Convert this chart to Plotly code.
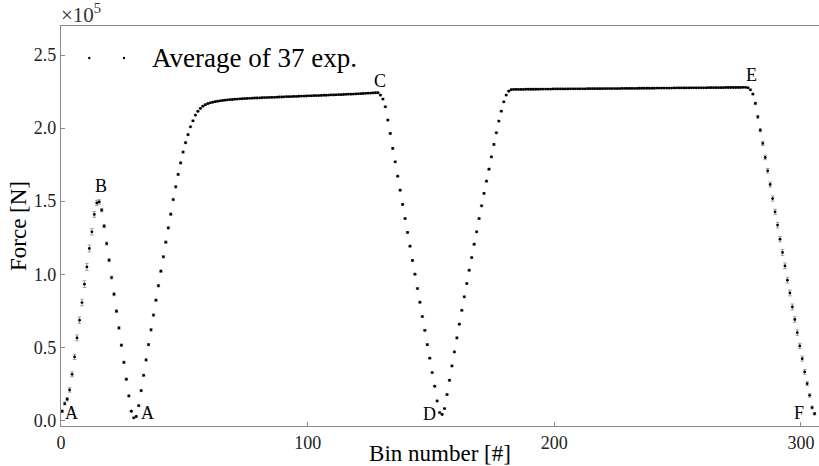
import numpy as np
import plotly.graph_objects as go

# Average force per bin, in units of 1e5 N (bins 0 .. 305)
force_1e5 = [
    0.062, 0.114, 0.144, 0.208, 0.315, 0.434, 0.564, 0.685, 0.806, 0.932,  # 0-9
    1.050, 1.176, 1.290, 1.409, 1.488, 1.495, 1.438, 1.329, 1.210, 1.096,  # 10-19
    0.977, 0.863, 0.747, 0.632, 0.514, 0.397, 0.281, 0.167, 0.062, 0.017,  # 20-29
    0.026, 0.100, 0.203, 0.308, 0.413, 0.518, 0.619, 0.720, 0.822, 0.921,  # 30-39
    1.021, 1.119, 1.219, 1.317, 1.411, 1.511, 1.598, 1.683, 1.762, 1.836,  # 40-49
    1.900, 1.955, 2.009, 2.050, 2.089, 2.115, 2.135, 2.150, 2.160, 2.167,  # 50-59
    2.173, 2.177, 2.181, 2.184, 2.187, 2.189, 2.191, 2.193, 2.195, 2.196,  # 60-69
    2.198, 2.199, 2.200, 2.201, 2.202, 2.203, 2.204, 2.205, 2.206, 2.206,  # 70-79
    2.207, 2.208, 2.209, 2.209, 2.210, 2.211, 2.211, 2.212, 2.213, 2.213,  # 80-89
    2.214, 2.215, 2.215, 2.216, 2.217, 2.217, 2.218, 2.219, 2.219, 2.220,  # 90-99
    2.221, 2.221, 2.222, 2.223, 2.223, 2.224, 2.225, 2.225, 2.226, 2.227,  # 100-109
    2.227, 2.228, 2.229, 2.229, 2.230, 2.231, 2.232, 2.232, 2.233, 2.234,  # 110-119
    2.235, 2.236, 2.237, 2.238, 2.239, 2.240, 2.241, 2.242, 2.242, 2.226,  # 120-129
    2.199, 2.146, 2.055, 1.963, 1.861, 1.769, 1.671, 1.575, 1.477, 1.381,  # 130-139
    1.286, 1.192, 1.094, 1.000, 0.902, 0.808, 0.710, 0.616, 0.518, 0.425,  # 140-149
    0.327, 0.233, 0.132, 0.053, 0.040, 0.080, 0.176, 0.274, 0.372, 0.468,  # 150-159
    0.564, 0.658, 0.753, 0.845, 0.936, 1.027, 1.114, 1.205, 1.290, 1.381,  # 160-169
    1.468, 1.553, 1.637, 1.719, 1.803, 1.888, 1.968, 2.048, 2.116, 2.180,  # 170-179
    2.226, 2.253, 2.263, 2.265, 2.265, 2.265, 2.265, 2.265, 2.266, 2.266,  # 180-189
    2.266, 2.266, 2.266, 2.266, 2.267, 2.267, 2.267, 2.267, 2.267, 2.268,  # 190-199
    2.268, 2.268, 2.268, 2.268, 2.268, 2.268, 2.269, 2.269, 2.269, 2.269,  # 200-209
    2.269, 2.269, 2.269, 2.270, 2.270, 2.270, 2.270, 2.270, 2.270, 2.270,  # 210-219
    2.271, 2.271, 2.271, 2.271, 2.271, 2.271, 2.271, 2.272, 2.272, 2.272,  # 220-229
    2.272, 2.272, 2.272, 2.272, 2.273, 2.273, 2.273, 2.273, 2.273, 2.273,  # 230-239
    2.273, 2.274, 2.274, 2.274, 2.274, 2.274, 2.274, 2.274, 2.275, 2.275,  # 240-249
    2.275, 2.275, 2.275, 2.275, 2.275, 2.276, 2.276, 2.276, 2.276, 2.276,  # 250-259
    2.276, 2.276, 2.277, 2.277, 2.277, 2.277, 2.277, 2.277, 2.277, 2.278,  # 260-269
    2.278, 2.278, 2.278, 2.278, 2.278, 2.278, 2.279, 2.279, 2.276, 2.262,  # 270-279
    2.233, 2.169, 2.077, 1.986, 1.895, 1.799, 1.708, 1.614, 1.518, 1.427,  # 280-289
    1.336, 1.240, 1.149, 1.057, 0.959, 0.872, 0.776, 0.690, 0.600, 0.509,  # 290-299
    0.422, 0.331, 0.251, 0.171, 0.087, 0.045,                              # 300-305
]

# Standard error of the mean per bin, same units
error_1e5 = [
    0.008, 0.010, 0.012, 0.015, 0.017, 0.018, 0.020, 0.022, 0.022, 0.023,  # 0-9
    0.024, 0.023, 0.022, 0.020, 0.018, 0.015, 0.012, 0.011, 0.011, 0.010,  # 10-19
    0.010, 0.010, 0.009, 0.009, 0.008, 0.008, 0.007, 0.006, 0.005, 0.004,  # 20-29
    0.005, 0.006, 0.007, 0.007, 0.008, 0.008, 0.008, 0.008, 0.008, 0.008,  # 30-39
    0.008, 0.008, 0.008, 0.008, 0.008, 0.008, 0.008, 0.007, 0.007, 0.007,  # 40-49
    0.006, 0.006, 0.006, 0.005, 0.005, 0.005, 0.004, 0.004, 0.004, 0.004,  # 50-59
    0.004, 0.004, 0.004, 0.004, 0.003, 0.004, 0.004, 0.004, 0.003, 0.004,  # 60-69
    0.004, 0.004, 0.003, 0.004, 0.004, 0.004, 0.003, 0.004, 0.004, 0.004,  # 70-79
    0.003, 0.004, 0.004, 0.004, 0.003, 0.004, 0.004, 0.004, 0.003, 0.004,  # 80-89
    0.004, 0.004, 0.003, 0.004, 0.004, 0.004, 0.003, 0.004, 0.004, 0.004,  # 90-99
    0.003, 0.004, 0.004, 0.004, 0.003, 0.004, 0.004, 0.004, 0.003, 0.004,  # 100-109
    0.004, 0.004, 0.003, 0.004, 0.004, 0.004, 0.003, 0.004, 0.004, 0.004,  # 110-119
    0.003, 0.004, 0.004, 0.004, 0.003, 0.004, 0.004, 0.004, 0.004, 0.005,  # 120-129
    0.005, 0.005, 0.006, 0.006, 0.006, 0.006, 0.006, 0.006, 0.006, 0.006,  # 130-139
    0.006, 0.006, 0.006, 0.006, 0.006, 0.006, 0.006, 0.006, 0.006, 0.005,  # 140-149
    0.005, 0.005, 0.005, 0.004, 0.004, 0.005, 0.005, 0.006, 0.006, 0.006,  # 150-159
    0.006, 0.006, 0.006, 0.006, 0.006, 0.006, 0.006, 0.006, 0.006, 0.006,  # 160-169
    0.006, 0.006, 0.006, 0.006, 0.006, 0.006, 0.006, 0.005, 0.005, 0.005,  # 170-179
    0.005, 0.004, 0.004, 0.004, 0.003, 0.004, 0.004, 0.004, 0.003, 0.004,  # 180-189
    0.004, 0.004, 0.003, 0.004, 0.004, 0.004, 0.003, 0.004, 0.004, 0.004,  # 190-199
    0.003, 0.004, 0.004, 0.004, 0.003, 0.004, 0.004, 0.004, 0.003, 0.004,  # 200-209
    0.004, 0.004, 0.003, 0.004, 0.004, 0.004, 0.003, 0.004, 0.004, 0.004,  # 210-219
    0.003, 0.004, 0.004, 0.004, 0.003, 0.004, 0.004, 0.004, 0.003, 0.004,  # 220-229
    0.004, 0.004, 0.003, 0.004, 0.004, 0.004, 0.003, 0.004, 0.004, 0.004,  # 230-239
    0.003, 0.004, 0.004, 0.004, 0.003, 0.004, 0.004, 0.004, 0.003, 0.004,  # 240-249
    0.004, 0.004, 0.003, 0.004, 0.004, 0.004, 0.003, 0.004, 0.004, 0.004,  # 250-259
    0.003, 0.004, 0.004, 0.004, 0.003, 0.004, 0.004, 0.004, 0.003, 0.004,  # 260-269
    0.004, 0.004, 0.003, 0.004, 0.004, 0.004, 0.004, 0.004, 0.005, 0.006,  # 270-279
    0.006, 0.008, 0.010, 0.012, 0.014, 0.015, 0.016, 0.017, 0.018, 0.018,  # 280-289
    0.019, 0.019, 0.020, 0.020, 0.020, 0.020, 0.020, 0.019, 0.019, 0.018,  # 290-299
    0.017, 0.016, 0.014, 0.012, 0.010, 0.008,                              # 300-305
]

# Phase labels and where they sit (bin, force in 1e5 N)
phase_labels = ["A", "A", "B", "C", "D", "E", "F"]
phase_x = [4.1, 35.1, 16.4, 129.3, 149.2, 280.1, 299.1]
phase_y = [0.05, 0.05, 1.603, 2.322, 0.045, 2.363, 0.05]

x_ticks = [0, 100, 200, 300]
y_ticks = [0.0, 0.5, 1.0, 1.5, 2.0, 2.5]
y_tick_text = ["0.0", "0.5", "1.0", "1.5", "2.0", "2.5"]

legend_text = "Average of 37 exp."
x_title = "Bin number [#]"
y_title = "Force [N]"

SERIF = "Liberation Serif, Times New Roman, serif"
AXIS_GREY = "#8a8a8a"

# bins are plotted at their centres
bin_centre = np.arange(len(force_1e5)) + 0.5

fig = go.Figure()
fig.add_trace(go.Scatter(
    x=bin_centre,
    y=force_1e5,
    mode="markers",
    marker=dict(size=2.8, color="black", line=dict(width=0)),
    error_y=dict(type="data", array=error_1e5, visible=True,
                 color="#8c8c8c", thickness=0.8, width=1.8),
    showlegend=False,
    name=legend_text,
))

annotations = []
for lab, lx, ly in zip(phase_labels, phase_x, phase_y):
    annotations.append(dict(
        x=lx, y=ly, xref="x", yref="y", text=lab, showarrow=False,
        xanchor="center", yanchor="middle",
        font=dict(family=SERIF, size=18, color="black"),
    ))

# exponent of the force axis
annotations.append(dict(
    x=-0.003, y=1.0, xref="paper", yref="paper", text="×10<sup>5</sup>",
    showarrow=False, xanchor="left", yanchor="bottom", yshift=-3,
    font=dict(family=SERIF, size=21, color="#333333"),
))

# hand-built legend: two sample dots followed by the label
annotations.append(dict(
    x=0.118, y=0.919, xref="paper", yref="paper", text=legend_text,
    showarrow=False, xanchor="left", yanchor="middle",
    font=dict(family=SERIF, size=27, color="black"),
))
shapes = []
for px in (0.0373, 0.0831):
    shapes.append(dict(
        type="circle", xref="paper", yref="paper",
        xsizemode="pixel", ysizemode="pixel",
        xanchor=px, yanchor=0.920,
        x0=-1.2, x1=1.2, y0=-1.2, y1=1.2,
        fillcolor="black", line=dict(width=0),
    ))

fig.update_layout(
    width=819, height=466,
    margin=dict(l=61, r=0, t=26, b=40),
    paper_bgcolor="white", plot_bgcolor="white",
    font=dict(family=SERIF, color="#222222"),
    annotations=annotations,
    shapes=shapes,
    showlegend=False,
)

fig.update_xaxes(
    range=[0, 307.3],
    tickvals=x_ticks, ticktext=[str(v) for v in x_ticks],
    ticks="inside", ticklen=4, tickcolor=AXIS_GREY, tickwidth=1,
    showline=True, linecolor=AXIS_GREY, linewidth=1.2, mirror=True,
    showgrid=False, zeroline=False, automargin=False,
    tickfont=dict(family=SERIF, size=18, color="#222222"),
    title=dict(text=x_title, standoff=3,
               font=dict(family=SERIF, size=23, color="black")),
)
fig.update_yaxes(
    range=[-0.039, 2.699],
    tickvals=y_ticks, ticktext=y_tick_text,
    ticks="inside", ticklen=4, tickcolor=AXIS_GREY, tickwidth=1,
    showline=True, linecolor=AXIS_GREY, linewidth=1.2, mirror=False,
    showgrid=False, zeroline=False, automargin=False,
    tickfont=dict(family=SERIF, size=18, color="#222222"),
    title=dict(text=y_title, standoff=0,
               font=dict(family=SERIF, size=23, color="black")),
)

fig.write_html("out.html")
